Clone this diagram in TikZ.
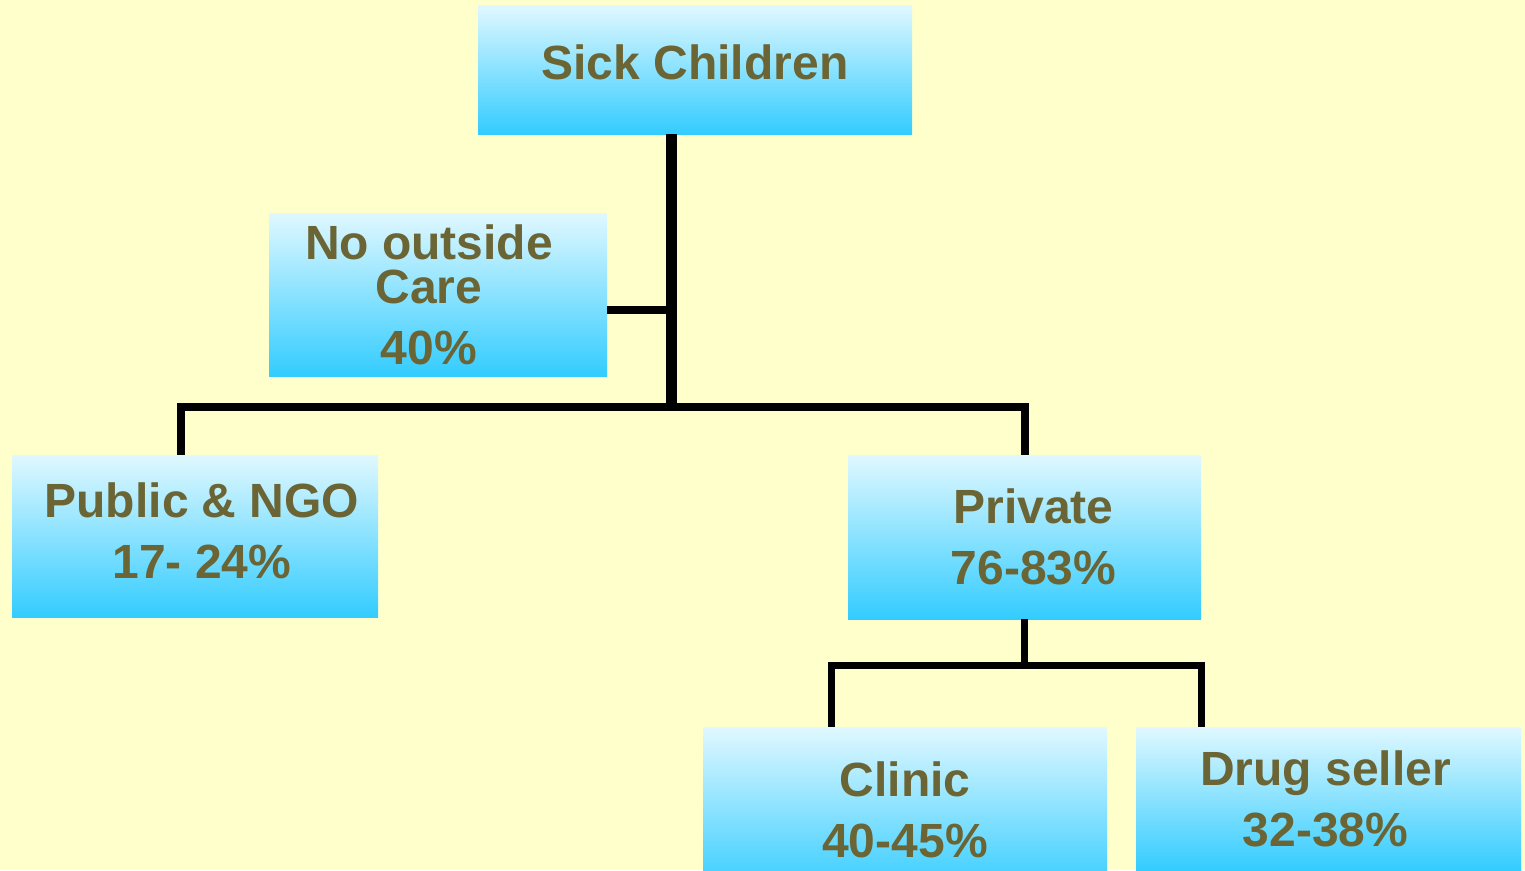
\documentclass[tikz,border=0pt]{standalone}
\usepackage{fontspec}
\setmainfont{Liberation Sans}
\usepackage{tikz}
\usetikzlibrary{positioning}
\definecolor{paper}{RGB}{255,255,204}
\definecolor{boxtop}{RGB}{224,248,255}
\definecolor{boxbot}{RGB}{51,204,255}
\definecolor{olive}{RGB}{107,101,53}

\begin{document}
\begin{tikzpicture}[x=1pt,y=-1pt,
   box/.style={rectangle,inner sep=0pt,top color=boxtop,bottom color=boxbot},
   txt/.style={text=olive,align=center,inner sep=0pt,font=\bfseries\fontsize{48}{61}\selectfont},
   wire/.style={line width=8pt,line join=miter},
   stem/.style={line width=11pt}]
\useasboundingbox (0,0) rectangle (1525,870);
\clip (0,0) rectangle (1525,870);
\fill[paper] (0,0) rectangle (1525,870);

\node[box,minimum width=434pt,minimum height=129pt,
   label={[txt,yshift=7pt]center:Sick Children}] (sick) at (695,69.5) {};
\node[box,minimum width=338pt,minimum height=163pt,
   label={[txt,xshift=-9pt]center:{No outside\\[-17pt]Care\\40\%}}] (nocare) at (438,294.5) {};
\node[box,minimum width=366pt,minimum height=162pt,
   label={[txt,xshift=7pt,yshift=5pt]center:{Public \& NGO\\17- 24\%}}] (public) at (195,536) {};
\node[box,minimum width=353pt,minimum height=164pt,
   label={[txt,xshift=9pt]center:{Private\\76-83\%}}] (private) at (1024.5,537) {};
\node[box,minimum width=404pt,minimum height=166pt,
   label={[txt]center:{Clinic\\40-45\%}}] (clinic) at (905,810) {};
\node[box,minimum width=385pt,minimum height=143pt,
   label={[txt,xshift=-3pt]center:{Drug seller\\32-38\%}}] (drug) at (1328.5,798.5) {};

\coordinate (fork) at (671,407);
\draw[stem] (sick.south -| fork) -- (fork);
\draw[wire] ([yshift=-15.5pt]nocare.east) -- ([yshift=-15.5pt]nocare.east -| fork);
\draw[wire] ([xshift=-14pt]public.north) |- (fork) -| (private.north);
% lower branch
\draw[wire,line width=7pt] (private.south) -- ++(0,46) coordinate (split);
\draw[wire,line width=7pt] ([xshift=-74pt]clinic.north) |- (split) -| ([xshift=-127.5pt]drug.north);
\end{tikzpicture}
\end{document}
